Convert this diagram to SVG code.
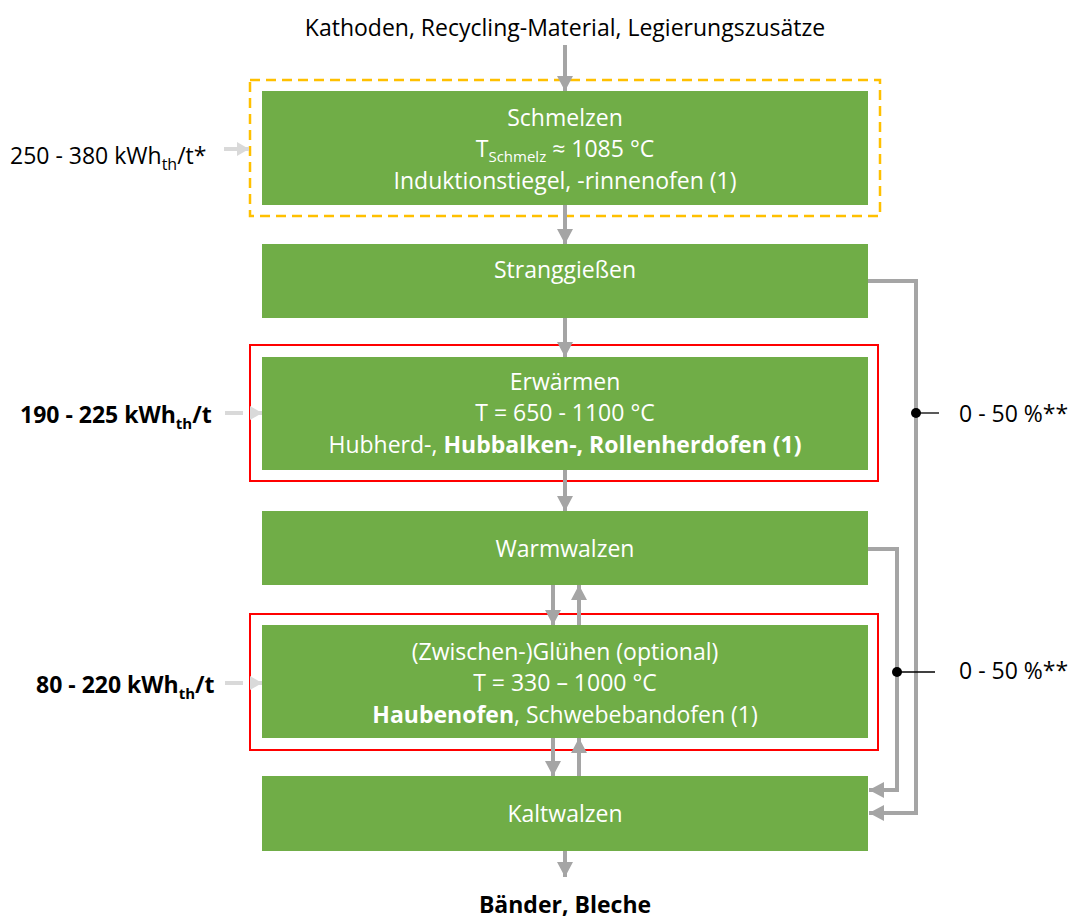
<svg xmlns="http://www.w3.org/2000/svg" width="1075" height="919" viewBox="0 0 1075 919">
<style>
text{font-family:"Open Sans","Liberation Sans",sans-serif;font-size:23px;fill:#000}
.w{fill:#fff;text-anchor:middle}
.box{fill:#70ad47}
.b{font-weight:bold}
.con{stroke:#a5a5a5;stroke-width:4;fill:none}
.inp{stroke:#d9d9d9;stroke-width:4;fill:none}
.red{fill:none;stroke:#ff0000;stroke-width:2}
</style>
<defs>
<marker id="ah" markerUnits="userSpaceOnUse" markerWidth="16" markerHeight="16" refX="15" refY="8" orient="auto">
<path d="M0,0 L15,8 L0,16 Z" fill="#a5a5a5"/>
</marker>
<marker id="ahl" markerUnits="userSpaceOnUse" markerWidth="14" markerHeight="16" refX="12" refY="8" orient="auto">
<path d="M0,1 L12,8 L0,15 Z" fill="#d9d9d9"/>
</marker>
</defs>
<text x="565" y="36" text-anchor="middle">Kathoden, Recycling-Material, Legierungszusätze</text>
<g id="schmelzen">
<rect x="250" y="80" width="630" height="136" fill="none" stroke="#ffc000" stroke-width="2.5" stroke-dasharray="10,6"/>
<rect class="box" x="262" y="91" width="606" height="114"/>
<text class="w" x="565" y="126">Schmelzen</text>
<text class="w" x="565" y="157">T<tspan font-size="15" dy="5">Schmelz</tspan><tspan dy="-5"> ≈ 1085 °C</tspan></text>
<text class="w" x="565" y="189">Induktionstiegel, -rinnenofen (1)</text>
</g>
<g id="stranggiessen">
<rect class="box" x="262" y="244" width="606" height="74"/>
<text class="w" x="565" y="278">Stranggießen</text>
</g>
<g id="erwaermen">
<rect class="red" x="250" y="345" width="628" height="136"/>
<rect class="box" x="262" y="357" width="606" height="113"/>
<text class="w" x="565" y="390">Erwärmen</text>
<text class="w" x="565" y="421">T = 650 - 1100 °C</text>
<text class="w" x="565" y="453">Hubherd-, <tspan class="b">Hubbalken-, Rollenherdofen (1)</tspan></text>
</g>
<g id="warmwalzen">
<rect class="box" x="262" y="511" width="606" height="74"/>
<text class="w" x="565" y="557">Warmwalzen</text>
</g>
<g id="gluehen">
<rect class="red" x="250" y="614" width="628" height="136"/>
<rect class="box" x="262" y="625" width="606" height="113"/>
<text class="w" x="565" y="660">(Zwischen-)Glühen (optional)</text>
<text class="w" x="565" y="691">T = 330 – 1000 °C</text>
<text class="w" x="565" y="723"><tspan class="b">Haubenofen</tspan>, Schwebebandofen (1)</text>
</g>
<g id="kaltwalzen">
<rect class="box" x="262" y="776" width="606" height="75"/>
<text class="w" x="565" y="822">Kaltwalzen</text>
</g>
<text class="b" x="565" y="913" text-anchor="middle">Bänder, Bleche</text>
<g id="inputs">
<text x="10" y="164">250 - 380 kWh<tspan font-size="16" dy="6">th</tspan><tspan dy="-6">/t*</tspan></text>
<text class="b" x="20" y="423">190 - 225 kWh<tspan font-size="15" dy="6">th</tspan><tspan dy="-6">/t</tspan></text>
<text class="b" x="36" y="693">80 - 220 kWh<tspan font-size="15" dy="6">th</tspan><tspan dy="-6">/t</tspan></text>
<text x="959" y="422">0 - 50 %**</text>
<text x="959" y="679">0 - 50 %**</text>
</g>
<g id="connectors">
<line class="con" x1="565" y1="45" x2="565" y2="91" marker-end="url(#ah)"/>
<line class="con" x1="565" y1="205" x2="565" y2="244" marker-end="url(#ah)"/>
<line class="con" x1="565" y1="318" x2="565" y2="357" marker-end="url(#ah)"/>
<line class="con" x1="565" y1="470" x2="565" y2="511" marker-end="url(#ah)"/>
<line class="con" x1="553" y1="585" x2="553" y2="625" marker-end="url(#ah)"/>
<line class="con" x1="579" y1="625" x2="579" y2="585" marker-end="url(#ah)"/>
<line class="con" x1="553" y1="738" x2="553" y2="776" marker-end="url(#ah)"/>
<line class="con" x1="579" y1="776" x2="579" y2="738" marker-end="url(#ah)"/>
<line class="con" x1="565" y1="851" x2="565" y2="877" marker-end="url(#ah)"/>
<polyline class="con" points="868,281 916,281 916,813 869,813" marker-end="url(#ah)"/>
<polyline class="con" points="868,549 897,549 897,790 869,790" marker-end="url(#ah)"/>
<line class="inp" x1="224" y1="149" x2="249" y2="149" marker-end="url(#ahl)"/>
<line class="inp" x1="225" y1="413" x2="262" y2="413" stroke-dasharray="18,7" marker-end="url(#ahl)"/>
<line class="inp" x1="225" y1="683" x2="262" y2="683" stroke-dasharray="18,7" marker-end="url(#ahl)"/>
<circle cx="916" cy="413" r="5" fill="#000"/>
<line x1="916" y1="413" x2="939" y2="413" stroke="#000" stroke-width="1.3"/>
<circle cx="897" cy="672" r="5" fill="#000"/>
<line x1="897" y1="672" x2="935" y2="672" stroke="#000" stroke-width="1.3"/>
</g>
</svg>
